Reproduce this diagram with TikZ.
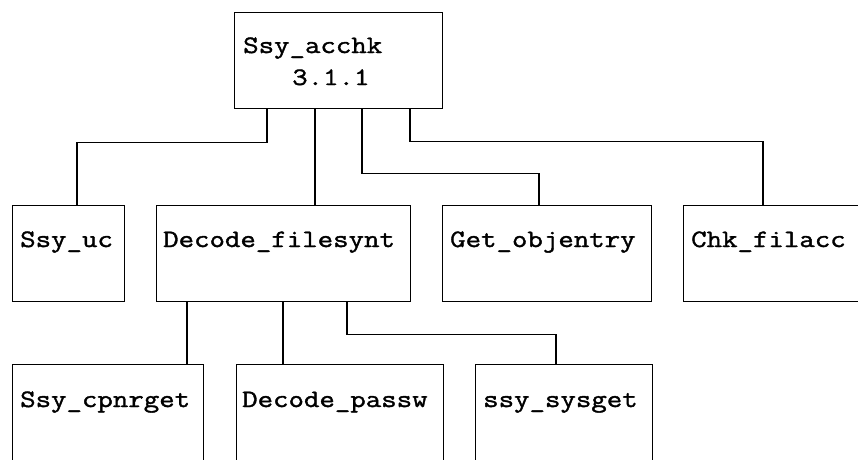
\documentclass[tikz,border=0pt]{standalone}
\usepackage{fontspec}
\newfontfamily\courlike[FakeStretch=1.2,FakeBold=1.5]{Latin Modern Mono}
\begin{document}
\begin{tikzpicture}[x=1pt,y=-1pt,
  box/.style={draw, line width=1.2pt, rectangle, inner sep=0pt, anchor=north west},
  lbl/.style={inner sep=0pt, anchor=base west, font=\fontsize{25}{27}\selectfont\courlike},
  conn/.style={line width=1.2pt}]
\useasboundingbox (0,0) rectangle (858,459);
\clip (0,0) rectangle (858,459);
% boxes
\node[box, minimum width=208pt, minimum height=96pt] (top) at (234,12) {};
\node[box, minimum width=112pt, minimum height=96pt] (uc) at (12,205) {};
\node[box, minimum width=254pt, minimum height=96pt] (dfs) at (156,205) {};
\node[box, minimum width=209pt, minimum height=96pt] (goe) at (442,205) {};
\node[box, minimum width=190pt, minimum height=96pt] (chk) at (683,205) {};
\node[box, minimum width=191pt, minimum height=140pt] (cpn) at (12,364) {};
\node[box, minimum width=207pt, minimum height=140pt] (dpw) at (236,364) {};
\node[box, minimum width=177pt, minimum height=140pt] (sys) at (475,364) {};
% texts
\node[lbl] (t1) at (243,53) {Ssy\_acchk};
\node[lbl] (t1b) at (292,85) {3.1.1};
\node[lbl] (t2) at (20,247) {Ssy\_uc};
\node[lbl] (t3) at (163,247) {Decode\_filesynt};
\node[lbl] (t4) at (450,247) {Get\_objentry};
\node[lbl] (t5) at (691,247) {Chk\_filacc};
\node[lbl] (t6) at (20,407) {Ssy\_cpnrget};
\node[lbl] (t7) at (242,407) {Decode\_passw};
\node[lbl] (t8) at (483,407) {ssy\_sysget};
% connectors
\draw[conn] ([xshift=33pt]top.south west) -- ++(0,33) -| ([xshift=65pt]uc.north west);
\draw[conn] ([xshift=81pt]top.south west) -- ([xshift=159pt]dfs.north west);
\draw[conn] ([xshift=128pt]top.south west) -- ++(0,64) -| ([xshift=97pt]goe.north west);
\draw[conn] ([xshift=176pt]top.south west) -- ++(0,32) -| ([xshift=80pt]chk.north west);
\draw[conn] ([xshift=31pt]dfs.south west) -- ([xshift=175pt]cpn.north west);
\draw[conn] ([xshift=127pt]dfs.south west) -- ([xshift=47pt]dpw.north west);
\draw[conn] ([xshift=191pt]dfs.south west) -- ++(0,32) -| ([xshift=81pt]sys.north west);
\end{tikzpicture}
\end{document}
